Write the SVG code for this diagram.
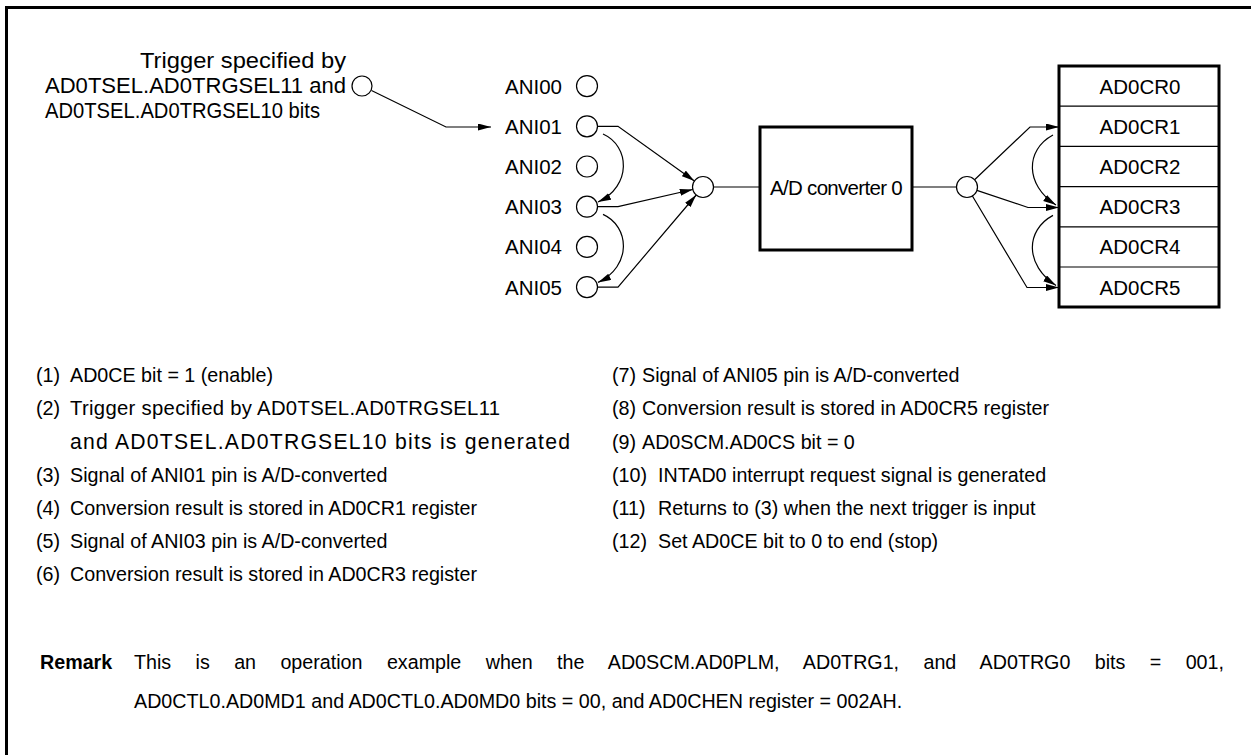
<svg xmlns="http://www.w3.org/2000/svg" width="1251" height="755" viewBox="0 0 1251 755">
<style>
text{font-family:"Liberation Sans",Arial,sans-serif;font-size:20.5px;fill:#000}
.t{font-size:19.7px}
.tr{font-size:22px}
.c{fill:#fff;stroke:#000;stroke-width:1.2}
.ln{fill:none;stroke:#000;stroke-width:1.2}
.bx{fill:#fff;stroke:#000;stroke-width:3}
.div{stroke:#000;stroke-width:1.2}
.mid{text-anchor:middle}
.end{text-anchor:end}
</style>
<defs>
<marker id="ah" markerUnits="userSpaceOnUse" markerWidth="14" markerHeight="8" refX="13" refY="3.5" orient="auto">
<path d="M0,0 L13,3.5 L0,7 z" fill="#000"/>
</marker>
</defs>
<rect width="1251" height="755" fill="#fff"/>
<path d="M6.5,755 V7.5 H1251" fill="none" stroke="#000" stroke-width="3"/>

<g id="trigger">
<text class="tr" x="140" y="68" textLength="206" lengthAdjust="spacingAndGlyphs">Trigger specified by</text>
<text class="tr" x="45" y="93" textLength="301" lengthAdjust="spacingAndGlyphs">AD0TSEL.AD0TRGSEL11 and</text>
<text class="tr" x="45" y="118" textLength="275" lengthAdjust="spacingAndGlyphs">AD0TSEL.AD0TRGSEL10 bits</text>
<circle class="c" cx="362" cy="86" r="10"/>
</g>

<g id="ani00"><text x="562" y="93.5" class="end">ANI00</text><circle class="c" cx="587" cy="86.1" r="10.5"/></g>
<g id="ani01"><text x="562" y="133.7" class="end">ANI01</text><circle class="c" cx="587" cy="126.3" r="10.5"/></g>
<g id="ani02"><text x="562" y="173.9" class="end">ANI02</text><circle class="c" cx="587" cy="166.5" r="10.5"/></g>
<g id="ani03"><text x="562" y="214.1" class="end">ANI03</text><circle class="c" cx="587" cy="206.7" r="10.5"/></g>
<g id="ani04"><text x="562" y="254.3" class="end">ANI04</text><circle class="c" cx="587" cy="246.9" r="10.5"/></g>
<g id="ani05"><text x="562" y="294.5" class="end">ANI05</text><circle class="c" cx="587" cy="287.1" r="10.5"/></g>

<g id="merge"><circle class="c" cx="703" cy="187" r="10.5"/></g>

<g id="converter">
<rect class="bx" x="760" y="127" width="152" height="123"/>
<text x="836" y="195" class="mid" letter-spacing="-0.7">A/D converter 0</text>
</g>

<g id="out"><circle class="c" cx="967" cy="187" r="10.5"/></g>

<g id="registers">
<rect class="bx" x="1059" y="66" width="160" height="241"/>
<line class="div" x1="1059" y1="106.2" x2="1219" y2="106.2"/>
<line class="div" x1="1059" y1="146.4" x2="1219" y2="146.4"/>
<line class="div" x1="1059" y1="186.6" x2="1219" y2="186.6"/>
<line class="div" x1="1059" y1="226.8" x2="1219" y2="226.8"/>
<line class="div" x1="1059" y1="267" x2="1219" y2="267"/>
<text x="1140" y="93.5" class="mid">AD0CR0</text>
<text x="1140" y="133.7" class="mid">AD0CR1</text>
<text x="1140" y="173.9" class="mid">AD0CR2</text>
<text x="1140" y="214.1" class="mid">AD0CR3</text>
<text x="1140" y="254.3" class="mid">AD0CR4</text>
<text x="1140" y="294.5" class="mid">AD0CR5</text>
</g>

<g id="connectors">
<polyline class="ln" points="371.5,90.5 446,127 491,127" marker-end="url(#ah)"/>
<polyline class="ln" points="597.5,126.3 618,126.3 694.4,181" marker-end="url(#ah)"/>
<polyline class="ln" points="597.5,206.7 618,206.7 692.8,189.5" marker-end="url(#ah)"/>
<polyline class="ln" points="597.5,287.1 618,287.1 696.2,195" marker-end="url(#ah)"/>
<path class="ln" d="M603,134 C630,146 632,186 598,202" marker-end="url(#ah)"/>
<path class="ln" d="M603,214.4 C630,226.4 632,266.4 598,282.4" marker-end="url(#ah)"/>
<line class="ln" x1="713.5" y1="187" x2="760" y2="187"/>
<line class="ln" x1="912" y1="187" x2="956.5" y2="187"/>
<polyline class="ln" points="974.6,179.8 1030,127 1059,127" marker-end="url(#ah)"/>
<polyline class="ln" points="976.9,190.4 1028,207.5 1059,207.5" marker-end="url(#ah)"/>
<polyline class="ln" points="972.4,196 1027,287.5 1059,287.5" marker-end="url(#ah)"/>
<path class="ln" d="M1053,135 C1025,150 1025,185 1056,205" marker-end="url(#ah)"/>
<path class="ln" d="M1053,215.4 C1025,230.4 1025,265.4 1056,285.4" marker-end="url(#ah)"/>
</g>

<g id="legend">
<text class="t" x="36" y="382">(1)</text><text class="t" x="70" y="382">AD0CE bit = 1 (enable)</text>
<text class="t" x="36" y="415">(2)</text><text x="70" y="415" style="font-size:20.3px" textLength="430" lengthAdjust="spacing">Trigger specified by AD0TSEL.AD0TRGSEL11</text>
<text x="70" y="449" style="font-size:21.2px" textLength="500" lengthAdjust="spacing">and AD0TSEL.AD0TRGSEL10 bits is generated</text>
<text class="t" x="36" y="482">(3)</text><text class="t" x="70" y="482">Signal of ANI01 pin is A/D-converted</text>
<text class="t" x="36" y="515">(4)</text><text class="t" x="70" y="515">Conversion result is stored in AD0CR1 register</text>
<text class="t" x="36" y="548">(5)</text><text class="t" x="70" y="548">Signal of ANI03 pin is A/D-converted</text>
<text class="t" x="36" y="581">(6)</text><text class="t" x="70" y="581">Conversion result is stored in AD0CR3 register</text>
<text class="t" x="612" y="382">(7)</text><text class="t" x="642" y="382">Signal of ANI05 pin is A/D-converted</text>
<text class="t" x="612" y="415">(8)</text><text class="t" x="642" y="415">Conversion result is stored in AD0CR5 register</text>
<text class="t" x="612" y="449">(9)</text><text class="t" x="642" y="449">AD0SCM.AD0CS bit = 0</text>
<text class="t" x="612" y="482">(10)</text><text class="t" x="658" y="482">INTAD0 interrupt request signal is generated</text>
<text class="t" x="612" y="515">(11)</text><text class="t" x="658" y="515">Returns to (3) when the next trigger is input</text>
<text class="t" x="612" y="548">(12)</text><text class="t" x="658" y="548">Set AD0CE bit to 0 to end (stop)</text>
</g>

<g id="remark">
<text class="t" x="40" y="669" font-weight="bold">Remark</text>
<text class="t" x="134" y="669" word-spacing="18.9">This is an operation example when the AD0SCM.AD0PLM, AD0TRG1, and AD0TRG0 bits = 001,</text>
<text class="t" x="134" y="708">AD0CTL0.AD0MD1 and AD0CTL0.AD0MD0 bits = 00, and AD0CHEN register = 002AH.</text>
</g>
</svg>
